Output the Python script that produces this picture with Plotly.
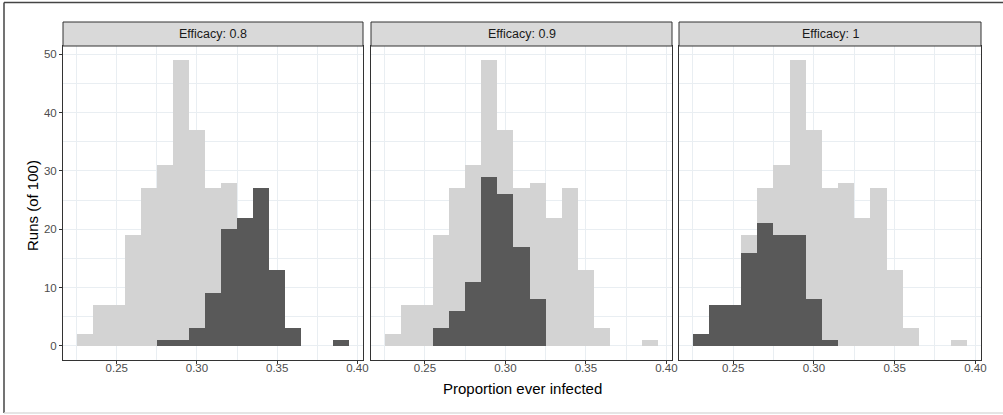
import plotly.graph_objects as go

# Bin centres (bin width 0.01)
bin_centres = [0.23, 0.24, 0.25, 0.26, 0.27, 0.28, 0.29, 0.30, 0.31,
               0.32, 0.33, 0.34, 0.35, 0.36, 0.37, 0.38, 0.39]

# All runs pooled (background, light grey)
all_runs = [2, 7, 7, 19, 27, 31, 49, 37, 27, 28, 22, 27, 13, 3, 0, 0, 1]

# Per-efficacy runs (dark)
eff_08 = [0, 0, 0, 0, 0, 1, 1, 3, 9, 20, 22, 27, 13, 3, 0, 0, 1]
eff_09 = [0, 0, 0, 3, 6, 11, 29, 26, 17, 8, 0, 0, 0, 0, 0, 0, 0]
eff_10 = [2, 7, 7, 16, 21, 19, 19, 8, 1, 0, 0, 0, 0, 0, 0, 0, 0]

panel_labels = ["Efficacy: 0.8", "Efficacy: 0.9", "Efficacy: 1"]
x_ticks = [0.25, 0.30, 0.35, 0.40]
y_ticks = [0, 10, 20, 30, 40, 50]

series = [eff_08, eff_09, eff_10]

# layout geometry (pixels)
W, H = 1003, 415
L, R, T, B = 63, 22, 22, 55
plot_w = W - L - R   # 918
plot_h = H - T - B   # 338
panels_px = [(63, 363), (371, 672), (679, 981)]
strip_h = 24
y_top = (plot_h - strip_h) / plot_h

def px_x(p):
    return (p - L) / plot_w

def px_y(p):
    return (H - B - p) / plot_h

fig = go.Figure()
grid_col = "#E9EEF2"
border_col = "#333333"

for i, dark in enumerate(series):
    xa = "x" if i == 0 else f"x{i+1}"
    ya = "y" if i == 0 else f"y{i+1}"
    fig.add_trace(go.Bar(x=bin_centres, y=all_runs, width=0.01,
                         marker=dict(color="#D3D3D3", line=dict(width=0)),
                         xaxis=xa, yaxis=ya, showlegend=False))
    fig.add_trace(go.Bar(x=bin_centres, y=dark, width=0.01,
                         marker=dict(color="#595959", line=dict(width=0)),
                         xaxis=xa, yaxis=ya, showlegend=False))

layout = dict(
    width=W, height=H,
    margin=dict(l=L, r=R, t=T, b=B, pad=0),
    paper_bgcolor="white", plot_bgcolor="white",
    barmode="overlay", bargap=0,
    font=dict(family="Liberation Sans, Arial, sans-serif", color="#4D4D4D"),
    shapes=[], annotations=[],
)

for i, (x0, x1) in enumerate(panels_px):
    sfx = "" if i == 0 else str(i + 1)
    layout[f"xaxis{sfx}"] = dict(
        domain=[px_x(x0), px_x(x1)], range=[0.2165, 0.4035],
        anchor=f"y{sfx}", tickvals=x_ticks, tickformat=".2f",
        ticks="outside", ticklen=3, tickcolor="#333333", tickwidth=1,
        ticklabelstandoff=-6,
        tickfont=dict(size=11.5, color="#4D4D4D"),
        showgrid=True, gridcolor=grid_col, gridwidth=1,
        minor=dict(tickvals=[0.225, 0.275, 0.325, 0.375], showgrid=True,
                   gridcolor=grid_col, gridwidth=0.6),
        showline=True, linecolor=border_col, linewidth=1, mirror=True,
        zeroline=False, fixedrange=True,
    )
    layout[f"yaxis{sfx}"] = dict(
        domain=[0, y_top], range=[-2.45, 51.45], anchor=f"x{sfx}",
        tickvals=y_ticks, showticklabels=(i == 0),
        ticks="outside" if i == 0 else "", ticklen=3, tickcolor="#333333",
        tickfont=dict(size=11.5, color="#4D4D4D"),
        showgrid=True, gridcolor=grid_col, gridwidth=1,
        minor=dict(tickvals=[5, 15, 25, 35, 45], showgrid=True,
                   gridcolor=grid_col, gridwidth=0.6),
        showline=True, linecolor=border_col, linewidth=1, mirror=True,
        zeroline=False, fixedrange=True,
    )
    # strip
    layout["shapes"].append(dict(
        type="rect", xref="paper", yref="paper",
        x0=px_x(x0), x1=px_x(x1), y0=y_top, y1=1,
        fillcolor="#D9D9D9", line=dict(color=border_col, width=1), layer="above"))
    layout["annotations"].append(dict(
        text=panel_labels[i], xref="paper", yref="paper",
        x=(px_x(x0) + px_x(x1)) / 2, y=(y_top + 1) / 2,
        showarrow=False, xanchor="center", yanchor="middle",
        font=dict(size=12.5, color="#1A1A1A")))

# axis titles
layout["annotations"].append(dict(
    text="Proportion ever infected", xref="paper", yref="paper",
    x=0.5, y=px_y(388), showarrow=False, xanchor="center", yanchor="middle",
    font=dict(size=15, color="#000000")))
layout["annotations"].append(dict(
    text="Runs (of 100)", xref="paper", yref="paper",
    x=px_x(32), y=px_y(205), showarrow=False, xanchor="center", yanchor="middle",
    textangle=-90, font=dict(size=15, color="#000000")))

# outer frame of the picture
fx0, fx1 = px_x(4), px_x(1003)
fy_top, fy_bot = px_y(2.5), px_y(413)
layout["shapes"] += [
    dict(type="line", xref="paper", yref="paper", x0=fx0, x1=fx1, y0=fy_top, y1=fy_top,
         line=dict(color="#444444", width=1.5)),
    dict(type="line", xref="paper", yref="paper", x0=fx0, x1=fx0, y0=fy_top, y1=fy_bot,
         line=dict(color="#444444", width=1.5)),
    dict(type="line", xref="paper", yref="paper", x0=fx0, x1=fx1, y0=fy_bot, y1=fy_bot,
         line=dict(color="#DDDDDD", width=1.5)),
]

fig.update_layout(**layout)
fig.write_html("out.html", config={"displayModeBar": False},
               post_script="document.body.style.margin='0';document.body.style.overflow='hidden';")
